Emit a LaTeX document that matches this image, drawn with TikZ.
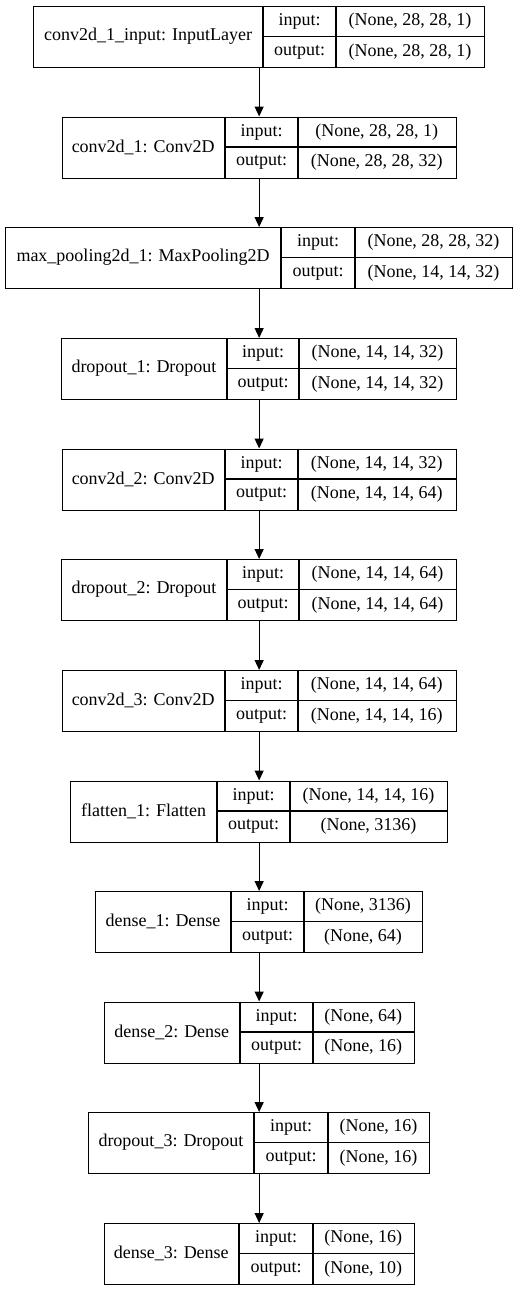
\documentclass[tikz,border=0pt]{standalone}
\usepackage{fontspec}
\setmainfont{Liberation Serif}
\usetikzlibrary{arrows.meta}
\tikzset{
  layerbox/.style={draw=black, line width=1.3pt, minimum height=61pt, inner sep=0pt, anchor=north west},
  cellline/.style={draw=black, line width=1.3pt},
  txt/.style={inner sep=0pt, font=\fontsize{18}{20}\selectfont, text=black},
  arr/.style={draw=black, line width=1.3pt, -{Triangle[length=10pt,width=9pt]}}
}
\newcommand\layer[9]{%
  \pgfmathsetmacro\wA{#5-#2}%
  \node[layerbox, minimum width=\wA pt] (#1) at (#2,#6) {};
  \draw[cellline] (#3,#6) -- (#3,{#6+61});
  \draw[cellline] (#4,#6) -- (#4,{#6+61});
  \draw[cellline] (#3,{#6+30.5}) -- (#5,{#6+30.5});
  \node[txt] (#1-name) at ({(#2+#3)/2},{#6+30.5}) {#7};
  \node[txt] (#1-inl) at ({(#3+#4)/2},{#6+15.5}) {input:};
  \node[txt] (#1-outl) at ({(#3+#4)/2},{#6+46}) {output:};
  \node[txt] (#1-inv) at ({(#4+#5)/2},{#6+15.5}) {#8};
  \node[txt] (#1-outv) at ({(#4+#5)/2},{#6+46}) {#9};
}
\begin{document}
\begin{tikzpicture}[x=1pt,y=-1pt]
\useasboundingbox (0,0) rectangle (517,1291);
\layer{b1}{33}{263}{336}{484}{6}{conv2d\_1\_input: InputLayer}{(None, 28, 28, 1)}{(None, 28, 28, 1)}
\layer{b2}{61.5}{225}{298}{455.5}{116.5}{conv2d\_1: Conv2D}{(None, 28, 28, 1)}{(None, 28, 28, 32)}
\layer{b3}{5}{281}{355}{512}{227}{max\_pooling2d\_1: MaxPooling2D}{(None, 28, 28, 32)}{(None, 14, 14, 32)}
\layer{b4}{61}{227}{299}{456}{338}{dropout\_1: Dropout}{(None, 14, 14, 32)}{(None, 14, 14, 32)}
\layer{b5}{61.5}{225}{298}{455.5}{448.5}{conv2d\_2: Conv2D}{(None, 14, 14, 32)}{(None, 14, 14, 64)}
\layer{b6}{61}{227}{299}{456}{559}{dropout\_2: Dropout}{(None, 14, 14, 64)}{(None, 14, 14, 64)}
\layer{b7}{61.5}{225}{298}{455.5}{670}{conv2d\_3: Conv2D}{(None, 14, 14, 64)}{(None, 14, 14, 16)}
\layer{b8}{70}{217}{290}{447}{780.5}{flatten\_1: Flatten}{(None, 14, 14, 16)}{(None, 3136)}
\layer{b9}{95}{231}{304}{422}{891}{dense\_1: Dense}{(None, 3136)}{(None, 64)}
\layer{b10}{103.5}{240}{313}{413.5}{1001.5}{dense\_2: Dense}{(None, 64)}{(None, 16)}
\layer{b11}{88}{254}{328}{429}{1112}{dropout\_3: Dropout}{(None, 16)}{(None, 16)}
\layer{b12}{103.5}{239}{313}{413.5}{1223}{dense\_3: Dense}{(None, 16)}{(None, 10)}
\draw[arr] (b1.south) -- (b2.north);
\draw[arr] (b2.south) -- (b3.north);
\draw[arr] (b3.south) -- (b4.north);
\draw[arr] (b4.south) -- (b5.north);
\draw[arr] (b5.south) -- (b6.north);
\draw[arr] (b6.south) -- (b7.north);
\draw[arr] (b7.south) -- (b8.north);
\draw[arr] (b8.south) -- (b9.north);
\draw[arr] (b9.south) -- (b10.north);
\draw[arr] (b10.south) -- (b11.north);
\draw[arr] (b11.south) -- (b12.north);
\end{tikzpicture}
\end{document}
